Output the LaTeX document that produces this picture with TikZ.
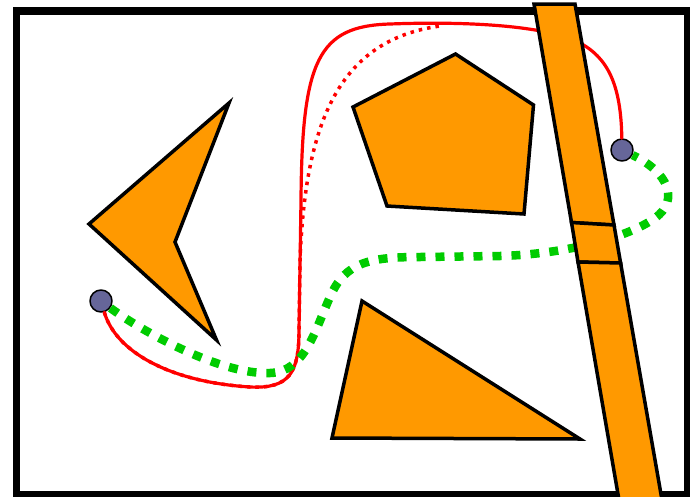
\documentclass[tikz,border=0pt]{standalone}
\usepackage{xcolor}
\usetikzlibrary{calc}
\definecolor{obst}{RGB}{255,153,0}
\definecolor{pathgreen}{RGB}{0,204,0}
\definecolor{endpt}{RGB}{102,102,153}
\tikzset{
  obstacle/.style={fill=obst, draw=black, line width=3.5pt, line join=miter},
  endv/.style={circle, draw, fill=endpt, line width=1.5pt, minimum size=22pt, inner sep=0pt},
  redpath/.style={draw=red, line width=3.2pt},
  reddots/.style={draw=red, line width=3.5pt, line cap=butt, dash pattern=on 3.5pt off 5pt},
  greenpath/.style={draw=pathgreen, line width=8.5pt, line cap=butt, dash pattern=on 9pt off 10pt},
  every picture/.style={line cap=round, line join=round}
}

\begin{document}
\begin{tikzpicture}[x=1pt, y=-1pt]
  \clip (0,0) rectangle (690,496);
  \draw[fill=white, line width=7.5pt, line join=miter] (16.7,10.8) rectangle (688,495);
  \node[endv] (start) at (101,301) {};
  \node[endv] (goal) at (622,150) {};
  \draw[redpath] (start) .. controls (116,352) and (170,382) .. (250,387)
    .. controls (290,389) and (299,372) .. (299,330) -- (301,200)
    .. controls (302,60) and (318,26) .. (390,24)
    .. controls (470,21) and (545,26) .. (578,42)
    .. controls (608,57) and (621,85) .. (goal);
  \draw[reddots] (start) .. controls (116,352) and (170,382) .. (250,387)
    .. controls (290,389) and (299,372) .. (299,330) -- (300,262)
    .. controls (305,120) and (340,40) .. (440,26);
  \draw[greenpath] (start) .. controls (140,330) and (220,375) .. (270,373)
    .. controls (305,372) and (315,330) .. (330,297)
    .. controls (345,262) and (370,257) .. (420,257) -- (500,256)
    .. controls (570,254) and (630,236) .. (655,218)
    .. controls (680,200) and (668,172) .. (goal);
  \filldraw[obstacle] (229,103) -- (89,224) -- (216.5,340) -- (175,242) -- cycle;
  \filldraw[obstacle] (455.5,54) -- (533.5,105) -- (524,214) -- (387,206) -- (353,107) -- cycle;
  \filldraw[obstacle] (362,301) -- (580,439) -- (332,438) -- cycle;
  \filldraw[obstacle] (534,4) -- (575,4) -- (614,225) -- (571.5,222.5) -- cycle;
  \filldraw[obstacle] (571.5,222.5) -- (614,225) -- (620.6,263) -- (578,262) -- cycle;
  \filldraw[obstacle] (578,262) -- (620.6,263) -- (662,500) -- (619,500) -- cycle;
\end{tikzpicture}
\end{document}
